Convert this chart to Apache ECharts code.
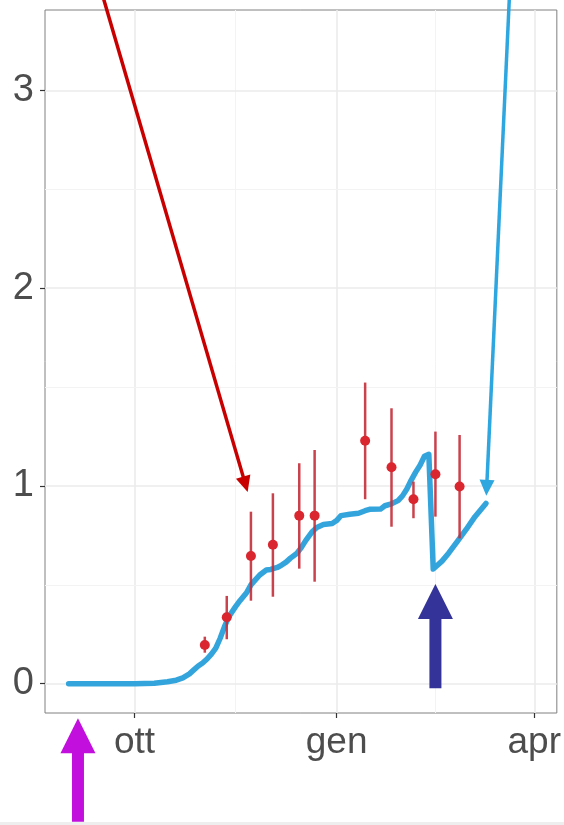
<!DOCTYPE html>
<html>
<head>
<meta charset="utf-8">
<script src="https://cdn.jsdelivr.net/npm/echarts@6/dist/echarts.min.js"></script>
<style>
  html, body { margin: 0; padding: 0; background: #ffffff; }
  #chart { width: 564px; height: 825px; }
</style>
</head>
<body>
<div id="chart"></div>
<script>
// ---------------- data ----------------
// model curve (blue line)
const modelDates = [
  '2020-09-01','2020-09-15','2020-10-01','2020-10-10','2020-10-16','2020-10-20','2020-10-23',
  '2020-10-26','2020-10-28','2020-10-30','2020-11-01','2020-11-03','2020-11-05','2020-11-07',
  '2020-11-09','2020-11-11','2020-11-13','2020-11-16','2020-11-18','2020-11-21','2020-11-23',
  '2020-11-25','2020-11-27','2020-11-30','2020-12-02','2020-12-05','2020-12-07','2020-12-09',
  '2020-12-11','2020-12-14','2020-12-16','2020-12-18','2020-12-21','2020-12-23','2020-12-26',
  '2020-12-30','2021-01-01','2021-01-03','2021-01-07','2021-01-11','2021-01-14','2021-01-16',
  '2021-01-21','2021-01-23','2021-01-26','2021-01-29','2021-01-31','2021-02-02','2021-02-04',
  '2021-02-06','2021-02-08','2021-02-10','2021-02-12','2021-02-14','2021-02-18','2021-02-21',
  '2021-02-25','2021-03-01','2021-03-05','2021-03-10'
];
const modelValues = [
  0, 0, 0, 0.002, 0.01, 0.018, 0.03,
  0.05, 0.07, 0.09, 0.105, 0.125, 0.15, 0.18,
  0.23, 0.29, 0.34, 0.39, 0.42, 0.46, 0.5,
  0.525, 0.55, 0.575, 0.578, 0.588, 0.6, 0.615,
  0.635, 0.66, 0.69, 0.725, 0.77, 0.79, 0.805,
  0.81, 0.825, 0.85, 0.857, 0.862, 0.875, 0.882,
  0.883, 0.9, 0.91, 0.926, 0.95, 0.985, 1.03,
  1.07, 1.105, 1.15, 1.16, 0.58, 0.62, 0.66,
  0.72, 0.78, 0.845, 0.912
];

// observed points with intervals (red)
const obsDates = ['2020-11-02','2020-11-12','2020-11-23','2020-12-03','2020-12-15','2020-12-22',
                  '2021-01-14','2021-01-26','2021-02-05','2021-02-15','2021-02-26'];
const obsValues = [0.196, 0.336, 0.646, 0.703, 0.85, 0.85, 1.229, 1.095, 0.933, 1.059, 0.997];
const obsLow    = [0.157, 0.225, 0.42, 0.44, 0.582, 0.516, 0.933, 0.794, 0.837, 0.845, 0.735];
const obsHigh   = [0.238, 0.444, 0.87, 0.963, 1.115, 1.182, 1.523, 1.393, 1.022, 1.275, 1.258];

// axes
const xMajorTicks = ['2020-10-01', '2021-01-01', '2021-04-01'];
const xMinorTicks = ['2020-11-16', '2021-02-15'];
const yMajorTicks = [0, 1, 2, 3];
const yMinorTicks = [0.5, 1.5, 2.5];
const monthNames = ['gen','feb','mar','apr','mag','giu','lug','ago','set','ott','nov','dic'];
const xRange = ['2020-08-21 05:45', '2021-04-11 06:45'];
const yRange = [-0.148, 3.407];

// annotation arrows (anchored in data coordinates)
const lineArrows = [
  { from: ['2020-09-17', 3.46], to: ['2020-11-21 12:00', 0.97], color: '#C80000' },
  { from: ['2021-03-20 15:00', 3.46], to: ['2021-03-10 04:00', 0.95], color: '#2EA6DF' }
];
const blockArrows = [
  { tip: ['2020-09-05 06:00', -0.175], tail: -0.698, color: '#C20FDD' },
  { tip: ['2021-02-15', 0.504], tail: -0.023, color: '#333399' }
];

// ---------------- chart ----------------
const parse = v => +echarts.number.parseDate(v);
const FONT = '"Liberation Sans", Arial, Helvetica, sans-serif';

const chart = echarts.init(document.getElementById('chart'), null, { renderer: 'canvas' });

const major = { color: '#EBEBEB', width: 1.6, type: 'solid' };
const minor = { color: '#F3F3F3', width: 1, type: 'solid' };
const gridMarks = [];
xMajorTicks.forEach(d => gridMarks.push({ xAxis: parse(d), lineStyle: major }));
xMinorTicks.forEach(d => gridMarks.push({ xAxis: parse(d), lineStyle: minor }));
yMajorTicks.forEach(v => gridMarks.push({ yAxis: v, lineStyle: major }));
yMinorTicks.forEach(v => gridMarks.push({ yAxis: v, lineStyle: minor }));

const option = {
  backgroundColor: '#ffffff',
  animation: false,
  grid: {
    left: 45, top: 10, right: 7, bottom: 112,
    show: true, borderColor: '#808080', borderWidth: 1, backgroundColor: 'transparent'
  },
  xAxis: {
    type: 'value',
    position: 'bottom',
    min: parse(xRange[0]), max: parse(xRange[1]),
    axisLine: { show: false, onZero: false },
    splitLine: { show: false },
    axisTick: { show: true, length: 5, lineStyle: { color: '#333333', width: 1.2 },
                customValues: xMajorTicks.map(parse) },
    axisLabel: {
      customValues: xMajorTicks.map(parse),
      formatter: v => monthNames[new Date(v).getMonth()],
      color: '#4D4D4D', fontSize: 37, fontFamily: FONT, margin: 11
    }
  },
  yAxis: {
    type: 'value',
    position: 'left',
    min: yRange[0], max: yRange[1],
    axisLine: { show: false, onZero: false },
    splitLine: { show: false },
    axisTick: { show: true, length: 5, lineStyle: { color: '#333333', width: 1.2 },
                customValues: yMajorTicks },
    axisLabel: {
      customValues: yMajorTicks,
      color: '#4D4D4D', fontSize: 38, fontFamily: FONT, margin: 11
    }
  },
  series: [
    {
      type: 'line', data: [], silent: true, z: 1,
      markLine: { silent: true, z: 1, symbol: ['none', 'none'], label: { show: false },
                  animation: false, data: gridMarks }
    },
    {
      name: 'model', type: 'line', z: 3,
      data: modelDates.map((d, i) => [parse(d), modelValues[i]]),
      showSymbol: false,
      lineStyle: { color: '#34A5DC', width: 5.5, cap: 'round', join: 'round' },
      itemStyle: { color: '#34A5DC' }
    },
    {
      name: 'intervals', type: 'custom', z: 4,
      data: obsDates.map((d, i) => [parse(d), obsLow[i], obsHigh[i]]),
      renderItem: (params, api) => {
        const x = api.value(0);
        const lo = api.coord([x, api.value(1)]);
        const hi = api.coord([x, api.value(2)]);
        return { type: 'line',
                 shape: { x1: lo[0], y1: lo[1], x2: hi[0], y2: hi[1] },
                 style: { stroke: '#C42E38', lineWidth: 2.5, opacity: 0.9 } };
      }
    },
    {
      name: 'observed', type: 'scatter', z: 5,
      data: obsDates.map((d, i) => [parse(d), obsValues[i]]),
      symbolSize: 10,
      itemStyle: { color: '#D9262F', opacity: 1 }
    }
  ]
};
chart.setOption(option);

// ---------------- annotations ----------------
const px = p => chart.convertToPixel({ gridIndex: 0 }, [parse(p[0]), p[1]]);
const graphics = [];
lineArrows.forEach(a => {
  const s = px(a.from), t = px(a.to);
  const dx = t[0] - s[0], dy = t[1] - s[1];
  const len = Math.hypot(dx, dy);
  const ux = dx / len, uy = dy / len, nx = -uy, ny = ux;
  const hl = 16, hw = 7.5;
  graphics.push({ type: 'line', z: 100,
    shape: { x1: s[0], y1: s[1], x2: t[0] - ux * hl * 0.8, y2: t[1] - uy * hl * 0.8 },
    style: { stroke: a.color, lineWidth: 3.5 } });
  graphics.push({ type: 'polygon', z: 100,
    shape: { points: [[t[0], t[1]],
                      [t[0] - ux * hl + nx * hw, t[1] - uy * hl + ny * hw],
                      [t[0] - ux * hl - nx * hw, t[1] - uy * hl - ny * hw]] },
    style: { fill: a.color } });
});
blockArrows.forEach(a => {
  const t = px(a.tip);
  const b = px([a.tip[0], a.tail]);
  const hl = 35, hw = 17.5, sw = 6;
  const x = t[0], y = t[1], by = b[1];
  graphics.push({ type: 'polygon', z: 100,
    shape: { points: [[x, y], [x + hw, y + hl], [x + sw, y + hl], [x + sw, by],
                      [x - sw, by], [x - sw, y + hl], [x - hw, y + hl]] },
    style: { fill: a.color } });
});
graphics.push({ type: 'rect', z: 90, shape: { x: 0, y: 822, width: 564, height: 3 },
                style: { fill: '#EEEEEE' } });
chart.setOption({ graphic: graphics });
</script>
</body>
</html>
